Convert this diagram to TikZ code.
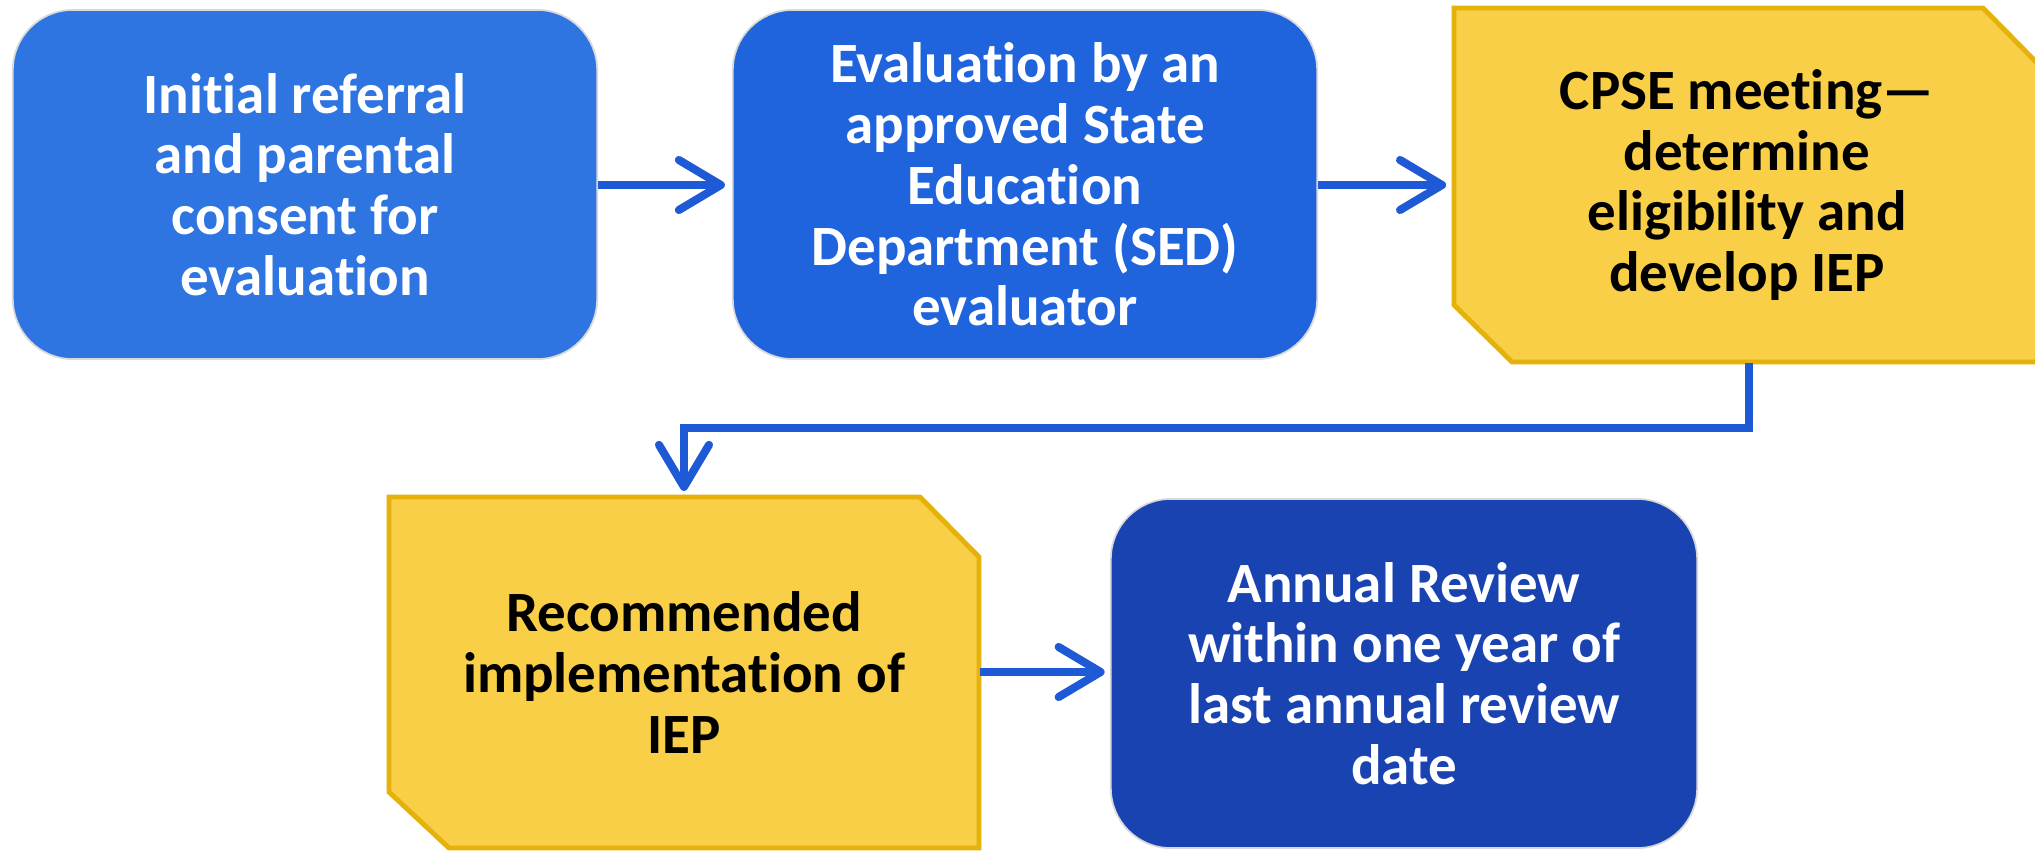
\documentclass[tikz,border=0pt]{standalone}
\usepackage{fontspec}
\setmainfont[RawFeature={-liga}]{Carlito}
\usetikzlibrary{arrows.meta,calc}
\definecolor{blueA}{HTML}{2E75E2}
\definecolor{blueB}{HTML}{1F64DC}
\definecolor{blueC}{HTML}{1A43B2}
\definecolor{yfill}{HTML}{F8CF47}
\definecolor{yline}{HTML}{E4B20A}
\definecolor{arrowc}{HTML}{1F5AD6}
\tikzset{
  x=0.01cm, y=-0.01cm,
  txt/.style={font=\bfseries\fontsize{16.2}{17.3}\selectfont, align=center, inner sep=0pt},
  bluebox/.style={txt, text=white, draw=black!15, line width=0.5pt, rounded corners=0.6cm},
  yshape/.style={fill=yfill, draw=yline, line width=1.4pt, line join=miter},
  ytext/.style={txt, text=black},
  flow/.style={draw=arrowc, line width=2.3pt, -{Straight Barb[round,length=0.42cm,width=0.5cm]}},
}
\begin{document}
\begin{tikzpicture}
\useasboundingbox (0,0) rectangle (2035,851);
% blue boxes
\node[bluebox, fill=blueA, minimum width=5.84cm, minimum height=3.49cm] (b1) at (305,184.5)
  {Initial referral\\and parental\\consent for\\evaluation};
\node[bluebox, fill=blueB, minimum width=5.84cm, minimum height=3.49cm] (b2) at (1025,184.5)
  {Evaluation by an\\approved State\\Education\\Department (SED)\\evaluator};
\node[bluebox, fill=blueC, minimum width=5.86cm, minimum height=3.49cm] (b5) at (1404,673.5)
  {Annual Review\\within one year of\\last annual review\\date};
% yellow chamfered boxes
\path[yshape] (1454,8) -- (1983,8) -- (2040,66) -- (2040,362) -- (1512,362) -- (1454,305) -- cycle;
\node[ytext, minimum width=5.86cm, minimum height=3.54cm] (b3) at (1747,185)
  {CPSE meeting—\\determine\\eligibility and\\develop IEP};
\path[yshape] (389,497) -- (920,497) -- (979,557) -- (979,848) -- (449,848) -- (389,792) -- cycle;
\node[ytext, minimum width=5.90cm, minimum height=3.51cm] (b4) at (684,672.5)
  {Recommended\\implementation of\\IEP};
% connectors
\draw[flow, shorten >=2pt] (b1.east |- 0,185) -- (b2.west |- 0,185);
\draw[flow, shorten >=2pt] (b2.east |- 0,185) -- (b3.west |- 0,185);
\coordinate (turn) at (1749,428);
\draw[flow, shorten >=1.5pt] (b3.south -| turn) -- (turn) -| (b4.north);
\draw[flow, shorten >=1.5pt] (b4.east |- 0,672) -- (b5.west |- 0,672);
\end{tikzpicture}
\end{document}
